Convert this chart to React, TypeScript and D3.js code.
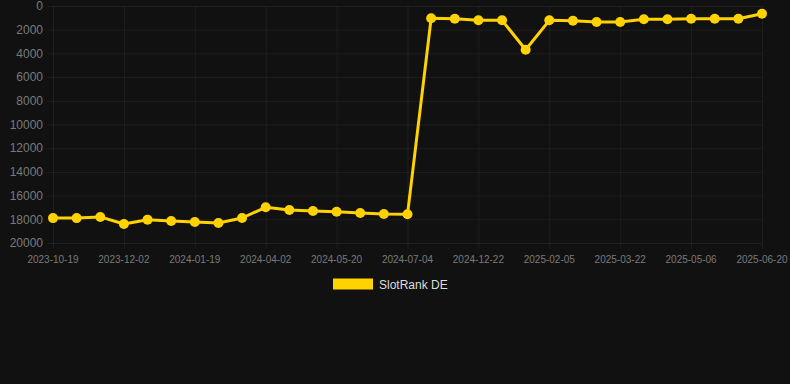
import React from "react";
import * as d3 from "d3";

const dates: string[] = [
  "2023-10-19", "2023-11-03", "2023-11-18", "2023-12-02", "2023-12-18", "2024-01-03",
  "2024-01-19", "2024-02-12", "2024-03-08", "2024-04-02", "2024-04-18", "2024-05-04",
  "2024-05-20", "2024-06-04", "2024-06-19", "2024-07-04", "2024-08-10", "2024-10-15",
  "2024-12-22", "2025-01-06", "2025-01-21", "2025-02-05", "2025-02-20", "2025-03-07",
  "2025-03-22", "2025-04-06", "2025-04-21", "2025-05-06", "2025-05-21", "2025-06-05",
  "2025-06-20",
];

const slotRankDE: number[] = [
  17900, 17900, 17800, 18400, 18030, 18140, 18230, 18310, 17890, 16990, 17220, 17300,
  17360, 17470, 17550, 17580, 1040, 1070, 1210, 1210, 3690, 1210, 1240, 1350,
  1350, 1120, 1120, 1070, 1070, 1070, 650,
];

const yTicks: number[] = [0, 2000, 4000, 6000, 8000, 10000, 12000, 14000, 16000, 18000, 20000];
const seriesName = "SlotRank DE";

const W = 790;
const H = 384;
const GOLD = "#ffd200";
const FONT = "'Liberation Sans', Arial, Helvetica, sans-serif";

export default function App() {
  React.useEffect(() => {
    document.body.style.margin = "0";
    document.body.style.background = "#111111";
  }, []);

  const x = d3.scalePoint<string>().domain(dates).range([53, 762]);
  const y = d3.scaleLinear().domain([0, 20000]).range([6, 243]);
  const line = d3
    .line<number>()
    .x((_, i) => x(dates[i]) as number)
    .y((d) => y(d));

  const shownTicks = dates.filter((_, i) => i % 3 === 0);

  return (
    <svg width={W} height={H} style={{ display: "block", background: "#111111" }} fontFamily={FONT}>
      <rect x={0} y={0} width={W} height={H} fill="#111111" />
      {yTicks.map((t) => (
        <g key={"y" + t}>
          <line x1={47} x2={762} y1={y(t) + 0.5} y2={y(t) + 0.5} stroke="rgba(255,255,255,0.055)" strokeWidth={1} />
          <text x={43} y={y(t)} dy="0.35em" textAnchor="end" fontSize={12} fill="#7a7a7a">
            {t}
          </text>
        </g>
      ))}
      {shownTicks.map((d) => (
        <g key={"x" + d}>
          <line
            x1={(x(d) as number) + 0.5}
            x2={(x(d) as number) + 0.5}
            y1={6}
            y2={249}
            stroke="rgba(255,255,255,0.055)"
            strokeWidth={1}
          />
          <text x={x(d) as number} y={259} dy="0.35em" textAnchor="middle" fontSize={10} fill="#7a7a7a">
            {d}
          </text>
        </g>
      ))}
      <path d={line(slotRankDE) || ""} fill="none" stroke={GOLD} strokeWidth={3} strokeLinejoin="round" />
      {slotRankDE.map((v, i) => (
        <circle key={"p" + i} cx={x(dates[i]) as number} cy={y(v)} r={5} fill={GOLD} />
      ))}
      <rect x={333} y={278.5} width={40} height={11} fill={GOLD} />
      <text x={379} y={285} dy="0.35em" fontSize={12} fill="#dddddd">
        {seriesName}
      </text>
    </svg>
  );
}
